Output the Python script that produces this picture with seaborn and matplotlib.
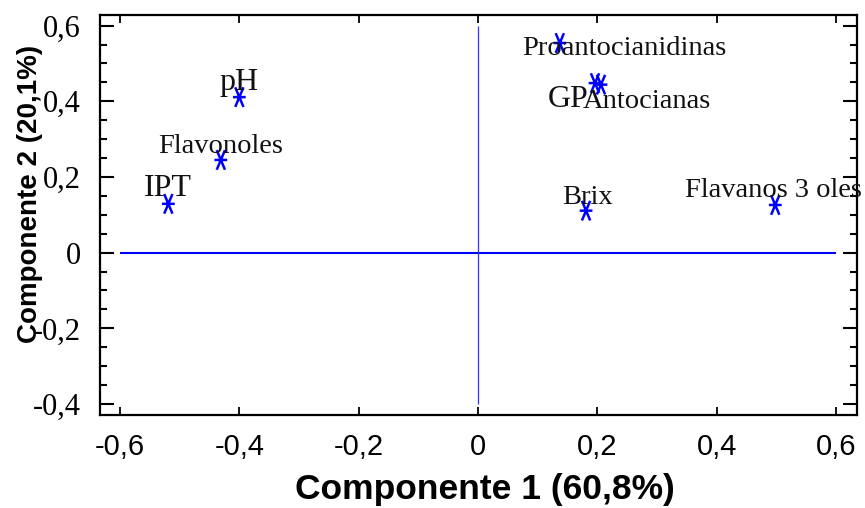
import numpy as np
import pandas as pd
import seaborn as sns
import matplotlib.pyplot as plt
from matplotlib.path import Path
from matplotlib.ticker import FuncFormatter, MultipleLocator

# loadings
variables = ['pH', 'Flavonoles', 'IPT', 'Proantocianidinas', 'GP',
             'Antocianas', 'Brix', 'Flavanos 3 oles']
comp1 = [-0.40, -0.431, -0.519, 0.137, 0.196, 0.206, 0.181, 0.498]
comp2 = [0.411, 0.245, 0.129, 0.554, 0.448, 0.444, 0.111, 0.126]

x_ticks = [-0.6, -0.4, -0.2, 0, 0.2, 0.4, 0.6]
y_ticks = [-0.4, -0.2, 0, 0.2, 0.4, 0.6]
x_title = 'Componente 1 (60,8%)'
y_title = 'Componente 2 (20,1%)'

# label placement (pixels from the point) and size
offsets = {'pH': (-20, 7, 23), 'Flavonoles': (-63, 7, 20.5), 'IPT': (-24, 8, 23),
           'Proantocianidinas': (-38, -12, 20.5), 'GP': (-47, -24, 23),
           'Antocianas': (-18, -23, 20.5), 'Brix': (-24, 7, 20.5),
           'Flavanos 3 oles': (-90, 8, 20.5)}

df = pd.DataFrame({'var': variables, 'c1': comp1, 'c2': comp2})

sns.set_style('ticks')
plt.rcParams.update({'text.color': 'black', 'xtick.color': 'black',
                     'ytick.color': 'black', 'axes.labelcolor': 'black'})
fig = plt.figure(figsize=(8.65, 5.08), dpi=100)
ax = fig.add_axes([100 / 865, 93 / 508, 757 / 865, 400 / 508])

# asterisk: flat bar plus two steep strokes
star = Path([(-0.65, 0), (0.65, 0), (-0.42, -1), (0.42, 1), (0.42, -1), (-0.42, 1)],
            [Path.MOVETO, Path.LINETO, Path.MOVETO, Path.LINETO, Path.MOVETO, Path.LINETO])

ax.hlines(0, x_ticks[0], x_ticks[-1], color='#0000ff', lw=1.5, zorder=1)
ax.vlines(0, y_ticks[0], y_ticks[-1], color='#3333ff', lw=0.9, zorder=1)

sns.scatterplot(data=df, x='c1', y='c2', marker=star, s=200, color='#0000ff',
                edgecolor='#0000ff', facecolor='none', linewidth=1.8, ax=ax, zorder=3)

for _, r in df.iterrows():
    dx, dy, fs = offsets[r['var']]
    ax.annotate(r['var'], (r['c1'], r['c2']), xytext=(dx, dy), textcoords='offset pixels',
                ha='left', va='baseline', fontsize=fs, family='Liberation Serif',
                color='#111111', zorder=4)

ax.set_xlim(-0.6335, 0.635)
ax.set_ylim(-0.429, 0.628)
ax.set_xticks(x_ticks)
ax.set_yticks(y_ticks)
ax.yaxis.set_minor_locator(MultipleLocator(0.05))

fmt = FuncFormatter(lambda v, p: '0' if abs(v) < 1e-9 else ('%.1f' % v).replace('.', ','))
ax.xaxis.set_major_formatter(fmt)
ax.yaxis.set_major_formatter(fmt)

ax.tick_params(axis='x', which='major', direction='in', length=6, width=1.3,
               top=True, bottom=True, pad=13, labelsize=21)
ax.tick_params(axis='y', which='major', direction='in', length=10, width=1.5,
               left=True, right=True, pad=14, labelsize=22)
ax.tick_params(axis='y', which='minor', direction='in', length=5, width=1.5,
               left=True, right=True)
for lab in ax.get_xticklabels():
    lab.set_family('Liberation Sans')
for lab in ax.get_yticklabels():
    lab.set_family('Liberation Serif')

for sp in ax.spines.values():
    sp.set_linewidth(1.6)
    sp.set_color('black')

ax.set_xlabel(x_title, fontsize=25.5, fontweight='bold', family='Liberation Sans')
ax.set_ylabel(y_title, fontsize=20, fontweight='bold', family='Liberation Sans')
ax.xaxis.set_label_coords(0.508, -0.146)
ax.xaxis.label.set_va('top')
ax.yaxis.set_label_coords(-0.075, 0.5525)

fig.savefig('out.png', dpi=100)
